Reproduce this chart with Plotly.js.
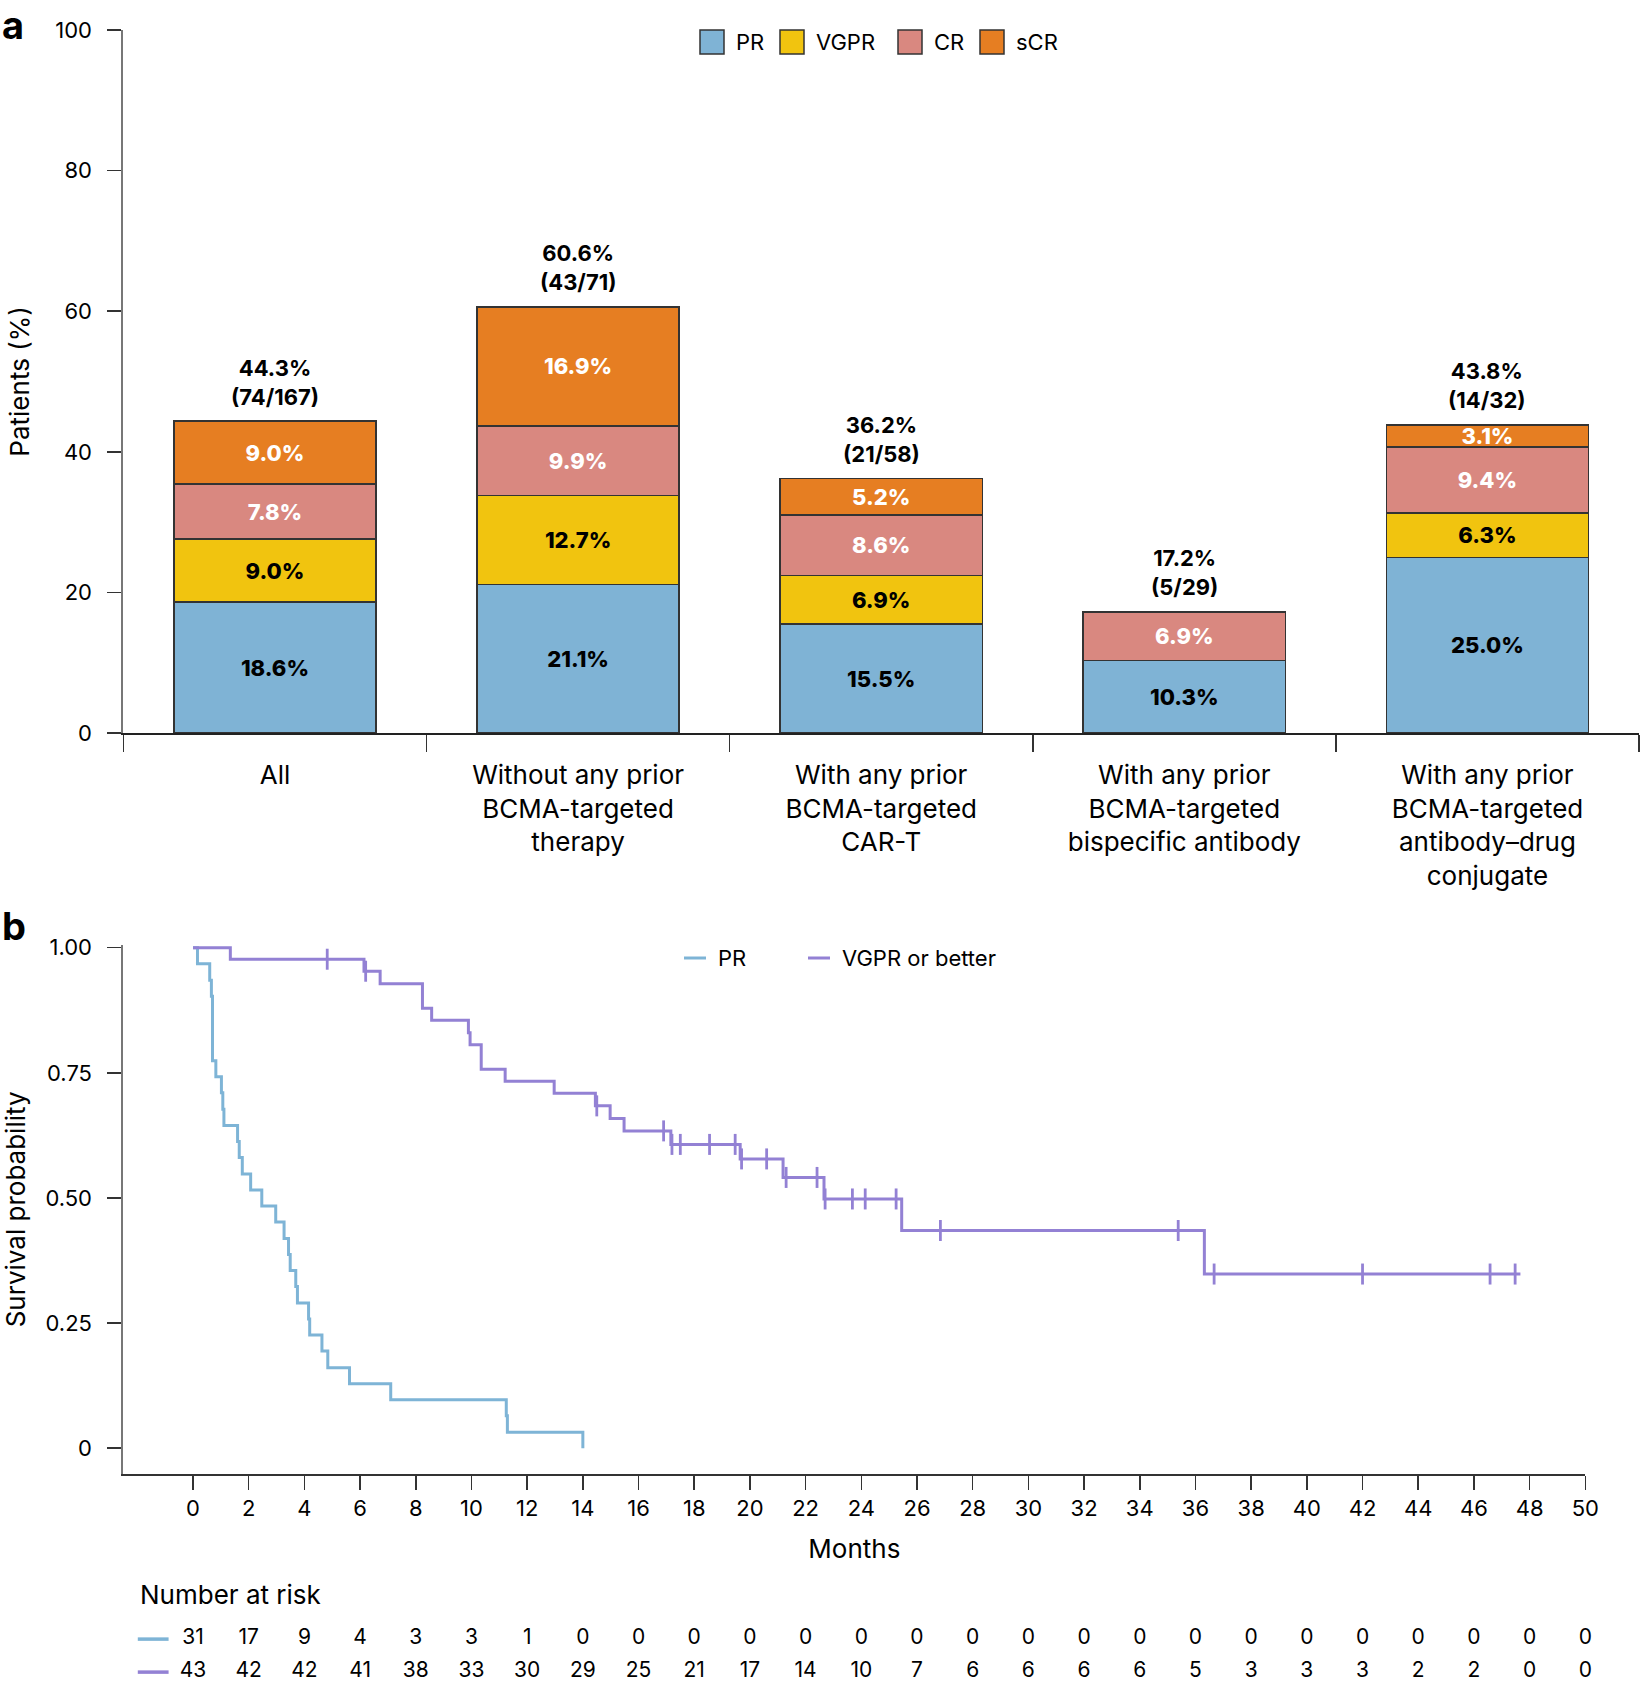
<!DOCTYPE html>
<html>
<head>
<meta charset="utf-8">
<script src="https://cdn.plot.ly/plotly-3.0.1.min.js"></script>
<style>
  html, body { margin: 0; padding: 0; background: #fff; }
  #chart { width: 1640px; height: 1683px; }
</style>
</head>
<body>
<div id="chart"></div>
<script>
// ---- panel a: best response by prior BCMA-targeted therapy ----
const groups = [
  'All',
  'Without any prior<br>BCMA-targeted<br>therapy',
  'With any prior<br>BCMA-targeted<br>CAR-T',
  'With any prior<br>BCMA-targeted<br>bispecific antibody',
  'With any prior<br>BCMA-targeted<br>antibody\u2013drug<br>conjugate'
];
const prVals   = [18.6, 21.1, 15.5, 10.3, 25.0];
const vgprVals = [9.0, 12.7, 6.9, 0, 6.3];
const crVals   = [7.8, 9.9, 8.6, 6.9, 9.4];
const scrVals  = [9.0, 16.9, 5.2, 0, 3.1];
const totals   = [44.3, 60.6, 36.2, 17.2, 43.8];
const counts   = ['74/167', '43/71', '21/58', '5/29', '14/32'];

const respNames  = ['PR', 'VGPR', 'CR', 'sCR'];
const respColors = ['#7fb3d5', '#f1c40f', '#d98880', '#e67e22'];
const respText   = ['#000000', '#000000', '#ffffff', '#ffffff'];

// ---- panel b: Kaplan-Meier by response depth ----
const prTime = [0, 0.16, 0.60, 0.66, 0.70, 0.82, 1.02, 1.07, 1.11, 1.60, 1.66, 1.77, 2.07, 2.47,
  2.97, 3.27, 3.43, 3.49, 3.69, 3.75, 4.15, 4.19, 4.63, 4.84, 5.62, 7.10, 11.25, 11.29, 14.0];
const prSurv = [1, 0.968, 0.935, 0.903, 0.774, 0.742, 0.710, 0.677, 0.645, 0.613, 0.581, 0.548,
  0.516, 0.484, 0.452, 0.419, 0.387, 0.355, 0.323, 0.290, 0.258, 0.226, 0.194, 0.161, 0.129,
  0.097, 0.065, 0.032, 0];

const vgTime = [0, 1.34, 6.14, 6.72, 8.24, 8.57, 9.89, 9.95, 10.35, 11.21, 12.97, 14.45, 14.98,
  15.48, 17.16, 19.65, 21.19, 22.66, 25.45, 36.32, 47.67];
const vgSurv = [1, 0.977, 0.953, 0.928, 0.879, 0.855, 0.830, 0.806, 0.757, 0.733, 0.709, 0.684,
  0.659, 0.634, 0.607, 0.578, 0.541, 0.498, 0.435, 0.348, 0.348];

const vgCensTime = [4.82, 6.2, 14.5, 16.9, 17.2, 17.5, 18.55, 19.47, 19.7, 20.6, 21.3, 22.41,
  22.7, 23.68, 24.14, 25.25, 26.84, 35.38, 36.67, 42.0, 46.58, 47.48];
const vgCensSurv = [0.977, 0.953, 0.684, 0.634, 0.607, 0.607, 0.607, 0.607, 0.578, 0.578, 0.541,
  0.541, 0.498, 0.498, 0.498, 0.498, 0.435, 0.435, 0.348, 0.348, 0.348, 0.348];

const riskMonths = [0, 2, 4, 6, 8, 10, 12, 14, 16, 18, 20, 22, 24, 26, 28, 30, 32, 34, 36, 38,
  40, 42, 44, 46, 48, 50];
const riskPR   = [31, 17, 9, 4, 3, 3, 1, 0, 0, 0, 0, 0, 0, 0, 0, 0, 0, 0, 0, 0, 0, 0, 0, 0, 0, 0];
const riskVGPR = [43, 42, 42, 41, 38, 33, 30, 29, 25, 21, 17, 14, 10, 7, 6, 6, 6, 6, 5, 3, 3, 3,
  2, 2, 0, 0];

const kmNames  = ['PR', 'VGPR or better'];
const kmColors = ['#7eb4d6', '#9381d4'];

// ---- helpers ----
const W = 1640, H = 1683;
const px = x => x / W;
const py = y => 1 - y / H;
const FONT = 'Inter, Lato, sans-serif';

const data = [];

const segVals = [prVals, vgprVals, crVals, scrVals];
segVals.forEach((vals, i) => {
  data.push({
    type: 'bar',
    x: groups,
    y: vals,
    name: respNames[i],
    width: 0.667,
    marker: { color: respColors[i], line: { color: '#333333', width: 1.5 } },
    text: vals.map(v => v ? v.toFixed(1) + '%' : ''),
    textposition: 'inside',
    insidetextanchor: 'middle',
    textangle: 0,
    constraintext: 'none',
    textfont: { family: FONT, size: 22, color: respText[i], weight: 800 },
    hoverinfo: 'skip',
    showlegend: false,
    xaxis: 'x',
    yaxis: 'y'
  });
});

// KM curves
data.push({
  type: 'scatter', mode: 'lines', x: prTime, y: prSurv, line: { shape: 'hv', color: kmColors[0], width: 3 },
  xaxis: 'x2', yaxis: 'y2', showlegend: false, hoverinfo: 'skip'
});
data.push({
  type: 'scatter', mode: 'lines', x: vgTime, y: vgSurv, line: { shape: 'hv', color: kmColors[1], width: 3 },
  xaxis: 'x2', yaxis: 'y2', showlegend: false, hoverinfo: 'skip'
});
data.push({
  type: 'scatter', mode: 'markers', x: vgCensTime, y: vgCensSurv,
  marker: { symbol: 'line-ns-open', size: 15, color: kmColors[1], line: { color: kmColors[1], width: 2.8 } },
  xaxis: 'x2', yaxis: 'y2', showlegend: false, hoverinfo: 'skip', cliponaxis: false
});

// number at risk rows
[riskPR, riskVGPR].forEach((row, i) => {
  data.push({
    type: 'scatter', mode: 'text', x: riskMonths, y: riskMonths.map(() => 1 - i),
    text: row.map(String), textposition: 'middle center',
    textfont: { family: FONT, size: 21, color: '#000' },
    xaxis: 'x2', yaxis: 'y3', showlegend: false, hoverinfo: 'skip', cliponaxis: false
  });
  data.push({
    type: 'scatter', mode: 'markers', x: [-1.43], y: [1 - i],
    marker: { symbol: 'line-ew-open', size: 22, color: kmColors[i], line: { color: kmColors[i], width: 3.5 } },
    xaxis: 'x2', yaxis: 'y3', showlegend: false, hoverinfo: 'skip', cliponaxis: false
  });
});

const shapes = [];
const annotations = [];

// legend for panel a
const legA = [700, 780, 898, 980];
respNames.forEach((n, i) => {
  shapes.push({
    type: 'rect', xref: 'paper', yref: 'paper',
    x0: px(legA[i]), x1: px(legA[i] + 24), y0: py(54), y1: py(30),
    fillcolor: respColors[i], line: { color: '#333', width: 1.5 }
  });
  annotations.push({
    xref: 'paper', yref: 'paper', x: px(legA[i] + 34), y: py(42),
    xanchor: 'left', yanchor: 'middle', showarrow: false, text: n,
    font: { family: FONT, size: 22, color: '#000' }
  });
});

// legend for panel b
const legB = [684, 808];
kmNames.forEach((n, i) => {
  shapes.push({
    type: 'line', xref: 'paper', yref: 'paper',
    x0: px(legB[i]), x1: px(legB[i] + 22), y0: py(958), y1: py(958),
    line: { color: kmColors[i], width: 3 }
  });
  annotations.push({
    xref: 'paper', yref: 'paper', x: px(legB[i] + 32), y: py(958),
    xanchor: 'left', yanchor: 'middle', showarrow: false, text: n,
    font: { family: FONT, size: 22, color: '#000' }
  });
});

// totals above bars
totals.forEach((t, i) => {
  annotations.push({
    xref: 'x', yref: 'y', x: i, y: t, yanchor: 'bottom', yshift: 10, showarrow: false,
    text: '<b>' + t.toFixed(1) + '%<br>(' + counts[i] + ')</b>',
    font: { family: FONT, size: 22, color: '#000' }
  });
});

// panel letters and table heading
annotations.push({
  xref: 'paper', yref: 'paper', x: 0, y: 1, xanchor: 'left', yanchor: 'top', showarrow: false,
  text: '<b>a</b>', font: { family: FONT, size: 38, color: '#000' }
});
annotations.push({
  xref: 'paper', yref: 'paper', x: 0, y: py(951), xanchor: 'left', yanchor: 'bottom', showarrow: false,
  text: '<b>b</b>', font: { family: FONT, size: 38, color: '#000' }
});
annotations.push({
  xref: 'paper', yref: 'paper', x: px(138), y: py(1594), xanchor: 'left', yanchor: 'middle', showarrow: false,
  text: 'Number at risk', font: { family: FONT, size: 26, color: '#000' }
});

const tickFont = { family: FONT, size: 22, color: '#000' };
const titleFont = { family: FONT, size: 26, color: '#000' };

const layout = {
  width: W,
  height: H,
  margin: { l: 0, r: 0, t: 0, b: 0 },
  paper_bgcolor: '#fff',
  plot_bgcolor: '#fff',
  barmode: 'stack',
  showlegend: false,
  font: { family: FONT, color: '#000' },
  xaxis: {
    domain: [px(123.4), px(1639)],
    type: 'category',
    range: [-0.5, 4.5],
    tickson: 'boundaries',
    ticks: 'outside', ticklen: 17, tickwidth: 1.5, tickcolor: '#333',
    ticklabelstandoff: 18,
    showline: true, linecolor: '#222', linewidth: 1.5,
    showgrid: false, zeroline: false,
    tickfont: { family: FONT, size: 26, color: '#000' },
    anchor: 'y', fixedrange: true
  },
  yaxis: {
    domain: [py(733), py(30)],
    range: [0, 100],
    tickvals: [0, 20, 40, 60, 80, 100],
    ticks: 'outside', ticklen: 14, tickwidth: 1.5, tickcolor: '#333',
    ticklabelstandoff: 11,
    showline: true, linecolor: '#777', linewidth: 2,
    showgrid: false, zeroline: false,
    tickfont: tickFont,
    title: { text: 'Patients (%)', font: titleFont, standoff: 18 },
    anchor: 'x', fixedrange: true
  },
  xaxis2: {
    domain: [px(123.4), px(1585.3)],
    range: [-2.5, 50],
    tickvals: riskMonths,
    ticks: 'outside', ticklen: 14, tickwidth: 1.5, tickcolor: '#333',
    showline: true, linecolor: '#333', linewidth: 1.5,
    showgrid: false, zeroline: false,
    tickfont: tickFont,
    title: { text: 'Months', font: titleFont, standoff: 20 },
    anchor: 'y2', fixedrange: true
  },
  yaxis2: {
    domain: [py(1474), py(944.7)],
    range: [-0.0515, 1.006],
    tickvals: [0, 0.25, 0.5, 0.75, 1],
    ticktext: ['0', '0.25', '0.50', '0.75', '1.00'],
    ticks: 'outside', ticklen: 14, tickwidth: 1.5, tickcolor: '#333',
    ticklabelstandoff: 11,
    showline: true, linecolor: '#777', linewidth: 2,
    showgrid: false, zeroline: false,
    tickfont: tickFont,
    title: { text: 'Survival probability', font: titleFont, standoff: 14 },
    anchor: 'x2', fixedrange: true
  },
  yaxis3: {
    domain: [0, py(1584)],
    range: [-0.33, 2.67],
    visible: false,
    anchor: 'x2', fixedrange: true
  },
  shapes: shapes,
  annotations: annotations
};

Plotly.newPlot('chart', data, layout, { displayModeBar: false, staticPlot: true });
</script>
</body>
</html>
